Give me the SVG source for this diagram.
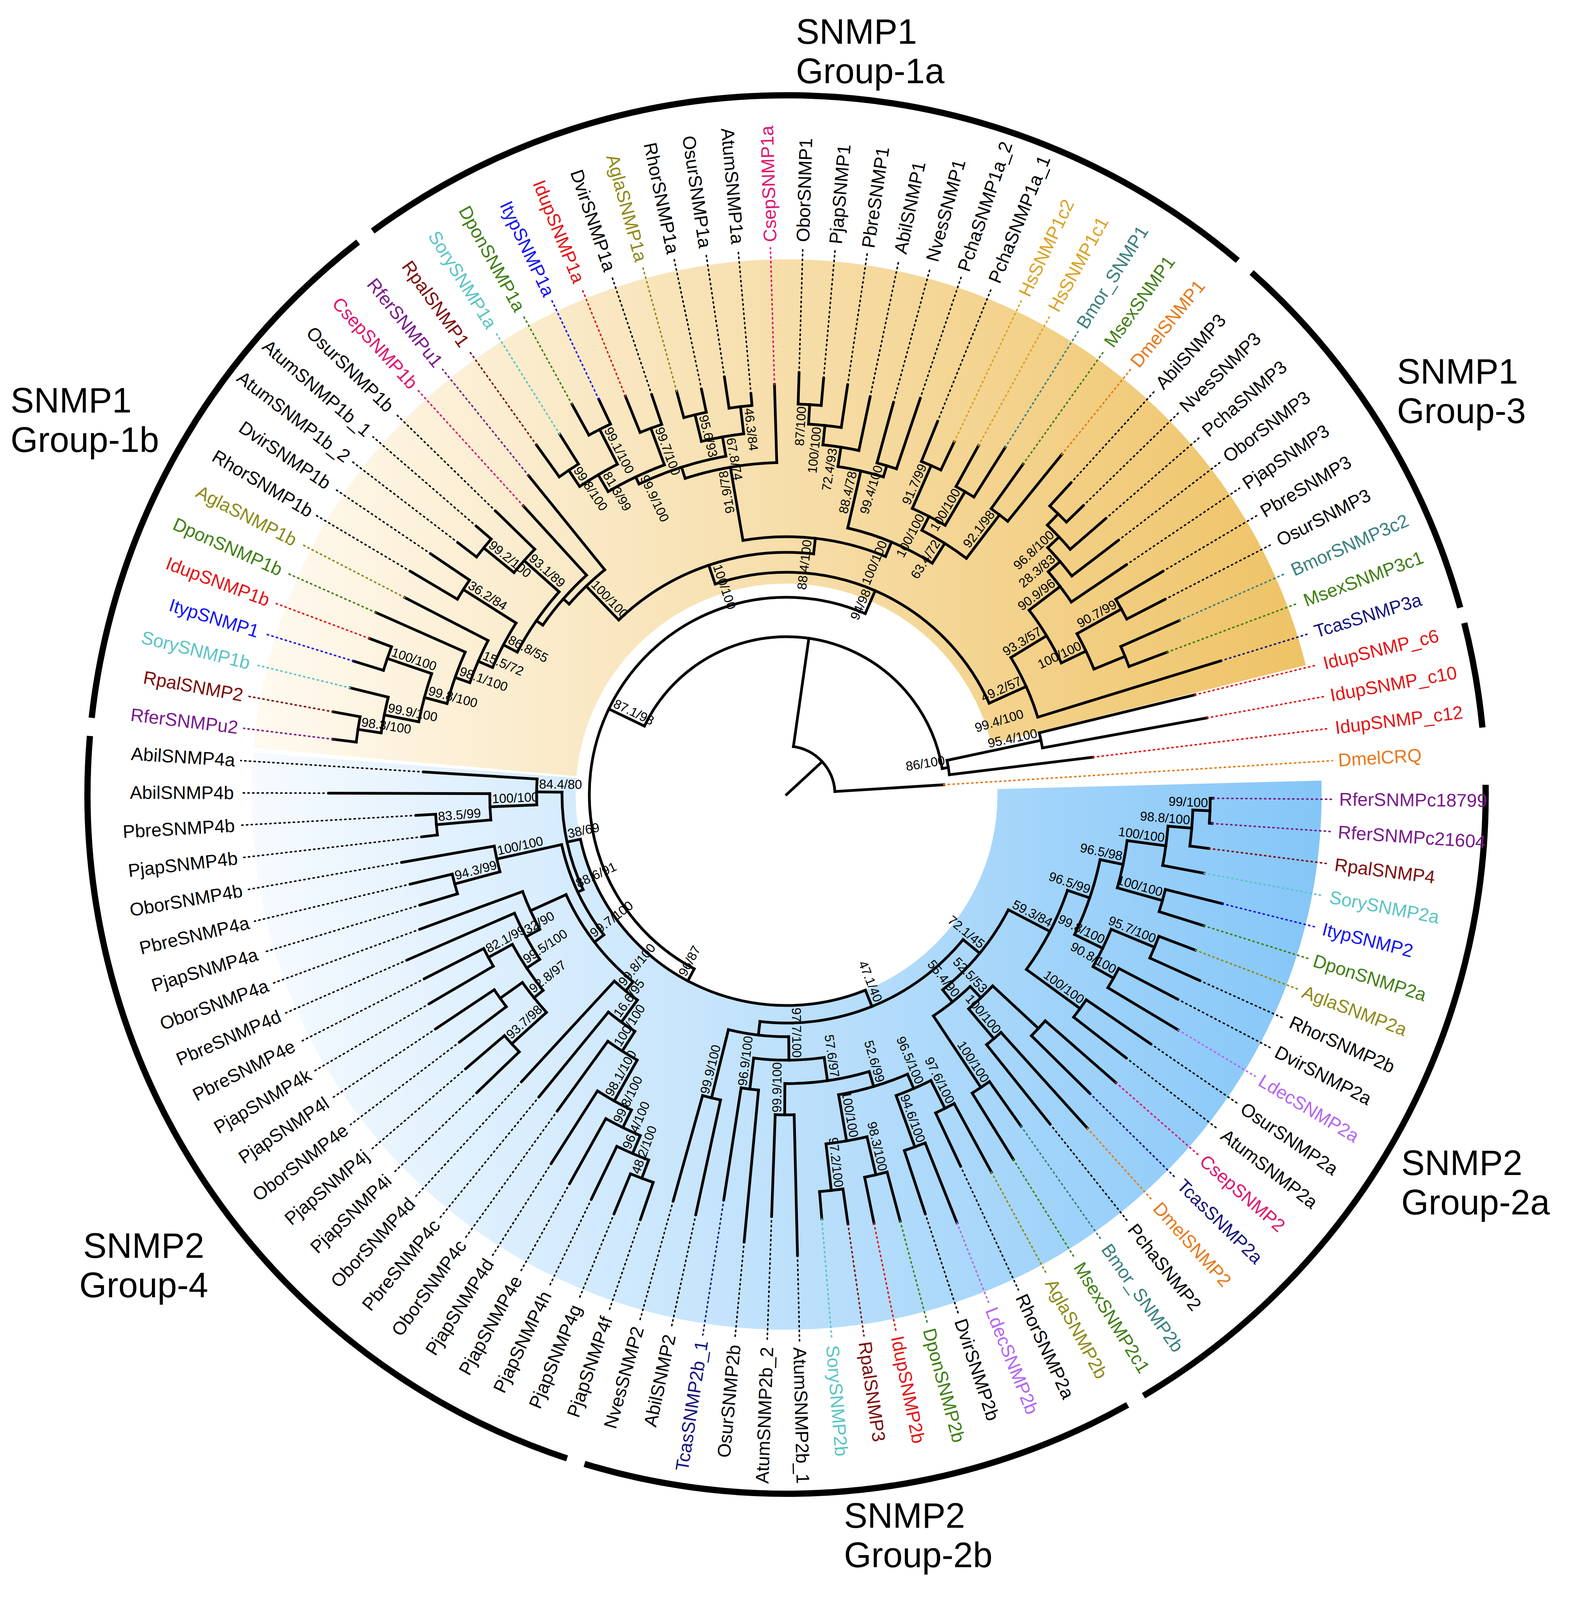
<svg xmlns="http://www.w3.org/2000/svg" width="4020" height="4291" viewBox="0 0 4020 4291">
<style>
.b line,.b circle{stroke:#000;stroke-width:7;fill:none;stroke-linecap:square}
.d{stroke-width:4;stroke-dasharray:3 9;stroke-linecap:round}
text{font-family:"Liberation Sans",Arial,sans-serif}
.l{font-size:47px}
.lf{font-size:47px;text-anchor:end}
.bs{font-size:33px;text-anchor:end}
.bf{font-size:33px;text-anchor:start}
.g{font-size:90px}
.pu{fill:#7a1a8c}.dr{fill:#7d0b0b}.tq{fill:#5bc4c4}.bl{fill:#1515f0}.gr{fill:#3f7f14}.ol{fill:#8f8a18}.rd{fill:#e31515}.mg{fill:#de1570}.lv{fill:#b466f2}.nv{fill:#15157a}.or{fill:#e8791a}.tl{fill:#3b8080}.go{fill:#d9a325}
.ga circle{fill:none;stroke:#000;stroke-width:16}
</style>
<defs>
<linearGradient id="og" gradientUnits="userSpaceOnUse" x1="-1370" y1="0" x2="1370" y2="0"><stop offset="0" stop-color="#fffaf1"/><stop offset="1" stop-color="#eec263"/></linearGradient>
<linearGradient id="bg" gradientUnits="userSpaceOnUse" x1="-1370" y1="0" x2="1370" y2="0"><stop offset="0" stop-color="#f7fbff"/><stop offset="1" stop-color="#84c6f8"/></linearGradient>
</defs>
<rect width="4020" height="4291" fill="#fff"/>
<g transform="translate(2014,2034)">
<g id="shading">
<circle r="955" fill="none" stroke="url(#og)" stroke-width="830" pathLength="360" stroke-dasharray="161 720" stroke-dashoffset="-185"/>
<circle r="955" fill="none" stroke="url(#bg)" stroke-width="830" pathLength="360" stroke-dasharray="184.5 174 1.5 720"/>
</g>
<g id="group-arcs" class="ga">
<circle r="1790" pathLength="360" stroke-dasharray="60.1 720" transform="rotate(-0.8)"/>
<circle r="1790" pathLength="360" stroke-dasharray="46 720" transform="rotate(60.8)"/>
<circle r="1790" pathLength="360" stroke-dasharray="76.5 720" transform="rotate(108.3)"/>
<circle r="1790" pathLength="360" stroke-dasharray="45.9 720" transform="rotate(186.3)"/>
<circle r="1790" pathLength="360" stroke-dasharray="76.5 720" transform="rotate(233.7)"/>
<circle r="1790" pathLength="360" stroke-dasharray="32.8 720" transform="rotate(311.7)"/>
<circle r="1790" pathLength="360" stroke-dasharray="8.7 720" transform="rotate(345.8)"/>
</g>
<g id="connectors" class="b">
<circle r="1085" pathLength="360" stroke-dasharray="3.39 720" transform="rotate(0.5)"/><line x1="1085" x2="1092" transform="rotate(0.5)"/><line x1="1085" x2="1092" transform="rotate(3.89)"/>
<circle r="1041" pathLength="360" stroke-dasharray="5.085 720" transform="rotate(2.195)"/><line x1="1041" x2="1085" transform="rotate(2.195)"/><line x1="1041" x2="1090" transform="rotate(7.28)"/>
<circle r="980" pathLength="360" stroke-dasharray="5.93 720" transform="rotate(4.74)"/><line x1="980" x2="1041" transform="rotate(4.74)"/><line x1="980" x2="1088" transform="rotate(10.67)"/>
<circle r="1000" pathLength="360" stroke-dasharray="3.39 720" transform="rotate(14.06)"/><line x1="1000" x2="1150" transform="rotate(14.06)"/><line x1="1000" x2="1120" transform="rotate(17.45)"/>
<circle r="880" pathLength="360" stroke-dasharray="8.055 720" transform="rotate(7.7)"/><line x1="880" x2="980" transform="rotate(7.7)"/><line x1="880" x2="1000" transform="rotate(15.755)"/>
<circle r="1020" pathLength="360" stroke-dasharray="3.39 720" transform="rotate(20.84)"/><line x1="1020" x2="1120" transform="rotate(20.84)"/><line x1="1020" x2="1160" transform="rotate(24.23)"/>
<circle r="960" pathLength="360" stroke-dasharray="3.39 720" transform="rotate(27.62)"/><line x1="960" x2="1130" transform="rotate(27.62)"/><line x1="960" x2="1170" transform="rotate(31.01)"/>
<circle r="900" pathLength="360" stroke-dasharray="6.78 720" transform="rotate(22.535)"/><line x1="900" x2="1020" transform="rotate(22.535)"/><line x1="900" x2="960" transform="rotate(29.315)"/>
<circle r="820" pathLength="360" stroke-dasharray="14.195 720" transform="rotate(11.73)"/><line x1="820" x2="880" transform="rotate(11.73)"/><line x1="820" x2="900" transform="rotate(25.925)"/>
<circle r="930" pathLength="360" stroke-dasharray="3.39 720" transform="rotate(34.4)"/><line x1="930" x2="1130" transform="rotate(34.4)"/><line x1="930" x2="1100" transform="rotate(37.79)"/>
<circle r="760" pathLength="360" stroke-dasharray="17.265 720" transform="rotate(18.83)"/><line x1="760" x2="820" transform="rotate(18.83)"/><line x1="760" x2="930" transform="rotate(36.095)"/>
<circle r="880" pathLength="360" stroke-dasharray="3.39 720" transform="rotate(41.18)"/><line x1="880" x2="1120" transform="rotate(41.18)"/><line x1="880" x2="1090" transform="rotate(44.57)"/>
<circle r="820" pathLength="360" stroke-dasharray="3.39 720" transform="rotate(47.96)"/><line x1="820" x2="1150" transform="rotate(47.96)"/><line x1="820" x2="1080" transform="rotate(51.35)"/>
<circle r="720" pathLength="360" stroke-dasharray="6.78 720" transform="rotate(42.875)"/><line x1="720" x2="880" transform="rotate(42.875)"/><line x1="720" x2="820" transform="rotate(49.655)"/>
<circle r="900" pathLength="360" stroke-dasharray="3.39 720" transform="rotate(54.74)"/><line x1="900" x2="1040" transform="rotate(54.74)"/><line x1="900" x2="1100" transform="rotate(58.13)"/>
<circle r="680" pathLength="360" stroke-dasharray="10.17 720" transform="rotate(46.265)"/><line x1="680" x2="720" transform="rotate(46.265)"/><line x1="680" x2="900" transform="rotate(56.435)"/>
<circle r="640" pathLength="360" stroke-dasharray="23.89 720" transform="rotate(27.46)"/><line x1="640" x2="760" transform="rotate(27.46)"/><line x1="640" x2="680" transform="rotate(51.35)"/>
<circle r="900" pathLength="360" stroke-dasharray="3.39 720" transform="rotate(61.52)"/><line x1="900" x2="1100" transform="rotate(61.52)"/><line x1="900" x2="1050" transform="rotate(64.91)"/>
<circle r="960" pathLength="360" stroke-dasharray="3.39 720" transform="rotate(68.3)"/><line x1="960" x2="1180" transform="rotate(68.3)"/><line x1="960" x2="1130" transform="rotate(71.69)"/>
<circle r="820" pathLength="360" stroke-dasharray="6.78 720" transform="rotate(63.215)"/><line x1="820" x2="900" transform="rotate(63.215)"/><line x1="820" x2="960" transform="rotate(69.995)"/>
<circle r="1000" pathLength="360" stroke-dasharray="3.39 720" transform="rotate(75.08)"/><line x1="1000" x2="1130" transform="rotate(75.08)"/><line x1="1000" x2="1120" transform="rotate(78.47)"/>
<circle r="1020" pathLength="360" stroke-dasharray="3.39 720" transform="rotate(81.86)"/><line x1="1020" x2="1110" transform="rotate(81.86)"/><line x1="1020" x2="1090" transform="rotate(85.25)"/>
<circle r="900" pathLength="360" stroke-dasharray="6.78 720" transform="rotate(76.775)"/><line x1="900" x2="1000" transform="rotate(76.775)"/><line x1="900" x2="1020" transform="rotate(83.555)"/>
<circle r="780" pathLength="360" stroke-dasharray="13.56 720" transform="rotate(66.605)"/><line x1="780" x2="820" transform="rotate(66.605)"/><line x1="780" x2="900" transform="rotate(80.165)"/>
<circle r="820" pathLength="360" stroke-dasharray="3.39 720" transform="rotate(88.64)"/><line x1="820" x2="1180" transform="rotate(88.64)"/><line x1="820" x2="1080" transform="rotate(92.03)"/>
<circle r="740" pathLength="360" stroke-dasharray="16.95 720" transform="rotate(73.385)"/><line x1="740" x2="780" transform="rotate(73.385)"/><line x1="740" x2="820" transform="rotate(90.335)"/>
<circle r="760" pathLength="360" stroke-dasharray="3.39 720" transform="rotate(95.42)"/><line x1="760" x2="1150" transform="rotate(95.42)"/><line x1="760" x2="1050" transform="rotate(98.81)"/>
<circle r="680" pathLength="360" stroke-dasharray="15.255 720" transform="rotate(81.86)"/><line x1="680" x2="740" transform="rotate(81.86)"/><line x1="680" x2="760" transform="rotate(97.115)"/>
<circle r="800" pathLength="360" stroke-dasharray="3.39 720" transform="rotate(102.2)"/><line x1="800" x2="1100" transform="rotate(102.2)"/><line x1="800" x2="1080" transform="rotate(105.59)"/>
<circle r="620" pathLength="360" stroke-dasharray="14.405 720" transform="rotate(89.49)"/><line x1="620" x2="680" transform="rotate(89.49)"/><line x1="620" x2="800" transform="rotate(103.895)"/>
<circle r="585" pathLength="360" stroke-dasharray="57.285 720" transform="rotate(39.405)"/><line x1="585" x2="640" transform="rotate(39.405)"/><line x1="585" x2="620" transform="rotate(96.69)"/>
<circle r="1050" pathLength="360" stroke-dasharray="3.39 720" transform="rotate(108.98)"/><line x1="1050" x2="1150" transform="rotate(108.98)"/><line x1="1050" x2="1160" transform="rotate(112.37)"/>
<circle r="1000" pathLength="360" stroke-dasharray="5.085 720" transform="rotate(110.675)"/><line x1="1000" x2="1050" transform="rotate(110.675)"/><line x1="1000" x2="1150" transform="rotate(115.76)"/>
<circle r="950" pathLength="360" stroke-dasharray="5.93 720" transform="rotate(113.22)"/><line x1="950" x2="1000" transform="rotate(113.22)"/><line x1="950" x2="1140" transform="rotate(119.15)"/>
<circle r="900" pathLength="360" stroke-dasharray="6.355 720" transform="rotate(116.185)"/><line x1="900" x2="950" transform="rotate(116.185)"/><line x1="900" x2="1120" transform="rotate(122.54)"/>
<circle r="780" pathLength="360" stroke-dasharray="6.57 720" transform="rotate(119.36)"/><line x1="780" x2="900" transform="rotate(119.36)"/><line x1="780" x2="1000" transform="rotate(125.93)"/>
<circle r="720" pathLength="360" stroke-dasharray="6.675 720" transform="rotate(122.645)"/><line x1="720" x2="780" transform="rotate(122.645)"/><line x1="720" x2="1000" transform="rotate(129.32)"/>
<circle r="650" pathLength="360" stroke-dasharray="6.73 720" transform="rotate(125.98)"/><line x1="650" x2="720" transform="rotate(125.98)"/><line x1="650" x2="1000" transform="rotate(132.71)"/>
<circle r="950" pathLength="360" stroke-dasharray="3.39 720" transform="rotate(136.1)"/><line x1="950" x2="1100" transform="rotate(136.1)"/><line x1="950" x2="1080" transform="rotate(139.49)"/>
<circle r="900" pathLength="360" stroke-dasharray="3.39 720" transform="rotate(142.88)"/><line x1="900" x2="1050" transform="rotate(142.88)"/><line x1="900" x2="1080" transform="rotate(146.27)"/>
<circle r="870" pathLength="360" stroke-dasharray="3.39 720" transform="rotate(149.66)"/><line x1="870" x2="1060" transform="rotate(149.66)"/><line x1="870" x2="1040" transform="rotate(153.05)"/>
<circle r="830" pathLength="360" stroke-dasharray="6.78 720" transform="rotate(137.795)"/><line x1="830" x2="950" transform="rotate(137.795)"/><line x1="830" x2="900" transform="rotate(144.575)"/>
<circle r="800" pathLength="360" stroke-dasharray="10.17 720" transform="rotate(141.185)"/><line x1="800" x2="830" transform="rotate(141.185)"/><line x1="800" x2="870" transform="rotate(151.355)"/>
<circle r="760" pathLength="360" stroke-dasharray="10.17 720" transform="rotate(146.27)"/><line x1="760" x2="800" transform="rotate(146.27)"/><line x1="760" x2="1060" transform="rotate(156.44)"/>
<circle r="720" pathLength="360" stroke-dasharray="8.475 720" transform="rotate(151.355)"/><line x1="720" x2="760" transform="rotate(151.355)"/><line x1="720" x2="1000" transform="rotate(159.83)"/>
<circle r="620" pathLength="360" stroke-dasharray="26.245 720" transform="rotate(129.345)"/><line x1="620" x2="650" transform="rotate(129.345)"/><line x1="620" x2="720" transform="rotate(155.59)"/>
<circle r="880" pathLength="360" stroke-dasharray="3.39 720" transform="rotate(163.22)"/><line x1="880" x2="980" transform="rotate(163.22)"/><line x1="880" x2="990" transform="rotate(166.61)"/>
<circle r="760" pathLength="360" stroke-dasharray="5.085 720" transform="rotate(164.915)"/><line x1="760" x2="880" transform="rotate(164.915)"/><line x1="760" x2="1000" transform="rotate(170)"/>
<circle r="590" pathLength="360" stroke-dasharray="24.99 720" transform="rotate(142.47)"/><line x1="590" x2="620" transform="rotate(142.47)"/><line x1="590" x2="760" transform="rotate(167.46)"/>
<circle r="900" pathLength="360" stroke-dasharray="3.39 720" transform="rotate(173.39)"/><line x1="900" x2="940" transform="rotate(173.39)"/><line x1="900" x2="950" transform="rotate(176.78)"/>
<circle r="760" pathLength="360" stroke-dasharray="5.085 720" transform="rotate(175.085)"/><line x1="760" x2="900" transform="rotate(175.085)"/><line x1="760" x2="1172" transform="rotate(180.17)"/>
<circle r="640" pathLength="360" stroke-dasharray="5.93 720" transform="rotate(177.63)"/><line x1="640" x2="760" transform="rotate(177.63)"/><line x1="640" x2="931" transform="rotate(183.56)"/>
<circle r="575" pathLength="360" stroke-dasharray="25.63 720" transform="rotate(154.965)"/><line x1="575" x2="590" transform="rotate(154.965)"/><line x1="575" x2="640" transform="rotate(180.595)"/>
<circle r="540" pathLength="360" stroke-dasharray="99.73 720" transform="rotate(68.05)"/><line x1="540" x2="585" transform="rotate(68.05)"/><line x1="540" x2="575" transform="rotate(167.78)"/>
<circle r="1110" pathLength="360" stroke-dasharray="3.39 720" transform="rotate(186.95)"/><line x1="1110" x2="1170" transform="rotate(186.95)"/><line x1="1110" x2="1180" transform="rotate(190.34)"/>
<circle r="1050" pathLength="360" stroke-dasharray="5.085 720" transform="rotate(188.645)"/><line x1="1050" x2="1110" transform="rotate(188.645)"/><line x1="1050" x2="1150" transform="rotate(193.73)"/>
<circle r="1080" pathLength="360" stroke-dasharray="3.39 720" transform="rotate(197.12)"/><line x1="1080" x2="1160" transform="rotate(197.12)"/><line x1="1080" x2="1140" transform="rotate(200.51)"/>
<circle r="960" pathLength="360" stroke-dasharray="7.625 720" transform="rotate(191.19)"/><line x1="960" x2="1050" transform="rotate(191.19)"/><line x1="960" x2="1080" transform="rotate(198.815)"/>
<circle r="900" pathLength="360" stroke-dasharray="8.9 720" transform="rotate(195)"/><line x1="900" x2="960" transform="rotate(195)"/><line x1="900" x2="1150" transform="rotate(203.9)"/>
<circle r="860" pathLength="360" stroke-dasharray="7.84 720" transform="rotate(199.45)"/><line x1="860" x2="900" transform="rotate(199.45)"/><line x1="860" x2="1100" transform="rotate(207.29)"/>
<circle r="980" pathLength="360" stroke-dasharray="3.39 720" transform="rotate(210.68)"/><line x1="980" x2="1120" transform="rotate(210.68)"/><line x1="980" x2="1100" transform="rotate(214.07)"/>
<circle r="820" pathLength="360" stroke-dasharray="9.005 720" transform="rotate(203.37)"/><line x1="820" x2="860" transform="rotate(203.37)"/><line x1="820" x2="980" transform="rotate(212.375)"/>
<circle r="1000" pathLength="360" stroke-dasharray="3.39 720" transform="rotate(217.46)"/><line x1="1000" x2="1060" transform="rotate(217.46)"/><line x1="1000" x2="1050" transform="rotate(220.85)"/>
<circle r="900" pathLength="360" stroke-dasharray="5.085 720" transform="rotate(219.155)"/><line x1="900" x2="1000" transform="rotate(219.155)"/><line x1="900" x2="1040" transform="rotate(224.24)"/>
<circle r="780" pathLength="360" stroke-dasharray="13.83 720" transform="rotate(207.87)"/><line x1="780" x2="820" transform="rotate(207.87)"/><line x1="780" x2="900" transform="rotate(221.7)"/>
<circle r="760" pathLength="360" stroke-dasharray="12.845 720" transform="rotate(214.785)"/><line x1="760" x2="780" transform="rotate(214.785)"/><line x1="760" x2="1000" transform="rotate(227.63)"/>
<circle r="740" pathLength="360" stroke-dasharray="9.81 720" transform="rotate(221.21)"/><line x1="740" x2="760" transform="rotate(221.21)"/><line x1="740" x2="1050" transform="rotate(231.02)"/>
<circle r="1000" pathLength="360" stroke-dasharray="3.39 720" transform="rotate(234.41)"/><line x1="1000" x2="1100" transform="rotate(234.41)"/><line x1="1000" x2="1090" transform="rotate(237.8)"/>
<circle r="1050" pathLength="360" stroke-dasharray="3.39 720" transform="rotate(241.19)"/><line x1="1050" x2="1140" transform="rotate(241.19)"/><line x1="1050" x2="1120" transform="rotate(244.58)"/>
<circle r="950" pathLength="360" stroke-dasharray="6.78 720" transform="rotate(236.105)"/><line x1="950" x2="1000" transform="rotate(236.105)"/><line x1="950" x2="1050" transform="rotate(242.885)"/>
<circle r="1000" pathLength="360" stroke-dasharray="3.39 720" transform="rotate(247.97)"/><line x1="1000" x2="1100" transform="rotate(247.97)"/><line x1="1000" x2="1080" transform="rotate(251.36)"/>
<circle r="900" pathLength="360" stroke-dasharray="10.17 720" transform="rotate(239.495)"/><line x1="900" x2="950" transform="rotate(239.495)"/><line x1="900" x2="1000" transform="rotate(249.665)"/>
<circle r="1000" pathLength="360" stroke-dasharray="3.39 720" transform="rotate(254.75)"/><line x1="1000" x2="1070" transform="rotate(254.75)"/><line x1="1000" x2="1060" transform="rotate(258.14)"/>
<circle r="1000" pathLength="360" stroke-dasharray="3.39 720" transform="rotate(261.53)"/><line x1="1000" x2="1080" transform="rotate(261.53)"/><line x1="1000" x2="1030" transform="rotate(264.92)"/>
<circle r="930" pathLength="360" stroke-dasharray="6.78 720" transform="rotate(256.445)"/><line x1="930" x2="1000" transform="rotate(256.445)"/><line x1="930" x2="1000" transform="rotate(263.225)"/>
<circle r="880" pathLength="360" stroke-dasharray="15.255 720" transform="rotate(244.58)"/><line x1="880" x2="900" transform="rotate(244.58)"/><line x1="880" x2="930" transform="rotate(259.835)"/>
<circle r="850" pathLength="360" stroke-dasharray="16.1 720" transform="rotate(252.21)"/><line x1="850" x2="880" transform="rotate(252.21)"/><line x1="850" x2="1050" transform="rotate(268.31)"/>
<circle r="1000" pathLength="360" stroke-dasharray="3.39 720" transform="rotate(271.7)"/><line x1="1000" x2="1080" transform="rotate(271.7)"/><line x1="1000" x2="1070" transform="rotate(275.09)"/>
<circle r="950" pathLength="360" stroke-dasharray="5.085 720" transform="rotate(273.395)"/><line x1="950" x2="1000" transform="rotate(273.395)"/><line x1="950" x2="1060" transform="rotate(278.48)"/>
<circle r="900" pathLength="360" stroke-dasharray="5.93 720" transform="rotate(275.94)"/><line x1="900" x2="950" transform="rotate(275.94)"/><line x1="900" x2="1040" transform="rotate(281.87)"/>
<circle r="880" pathLength="360" stroke-dasharray="3.39 720" transform="rotate(285.26)"/><line x1="880" x2="1040" transform="rotate(285.26)"/><line x1="880" x2="1070" transform="rotate(288.65)"/>
<circle r="850" pathLength="360" stroke-dasharray="8.05 720" transform="rotate(278.905)"/><line x1="850" x2="900" transform="rotate(278.905)"/><line x1="850" x2="880" transform="rotate(286.955)"/>
<circle r="920" pathLength="360" stroke-dasharray="3.39 720" transform="rotate(292.04)"/><line x1="920" x2="1030" transform="rotate(292.04)"/><line x1="920" x2="1000" transform="rotate(295.43)"/>
<circle r="900" pathLength="360" stroke-dasharray="3.39 720" transform="rotate(298.82)"/><line x1="900" x2="1020" transform="rotate(298.82)"/><line x1="900" x2="1050" transform="rotate(302.21)"/>
<circle r="800" pathLength="360" stroke-dasharray="6.78 720" transform="rotate(293.735)"/><line x1="800" x2="920" transform="rotate(293.735)"/><line x1="800" x2="900" transform="rotate(300.515)"/>
<circle r="900" pathLength="360" stroke-dasharray="3.39 720" transform="rotate(305.6)"/><line x1="900" x2="1040" transform="rotate(305.6)"/><line x1="900" x2="1120" transform="rotate(308.99)"/>
<circle r="760" pathLength="360" stroke-dasharray="10.17 720" transform="rotate(297.125)"/><line x1="760" x2="800" transform="rotate(297.125)"/><line x1="760" x2="900" transform="rotate(307.295)"/>
<circle r="700" pathLength="360" stroke-dasharray="19.28 720" transform="rotate(282.93)"/><line x1="700" x2="850" transform="rotate(282.93)"/><line x1="700" x2="760" transform="rotate(302.21)"/>
<circle r="660" pathLength="360" stroke-dasharray="32.31 720" transform="rotate(260.26)"/><line x1="660" x2="850" transform="rotate(260.26)"/><line x1="660" x2="700" transform="rotate(292.57)"/>
<circle r="620" pathLength="360" stroke-dasharray="50.3 720" transform="rotate(226.115)"/><line x1="620" x2="740" transform="rotate(226.115)"/><line x1="620" x2="660" transform="rotate(276.415)"/>
<circle r="1000" pathLength="360" stroke-dasharray="3.39 720" transform="rotate(312.38)"/><line x1="1000" x2="1080" transform="rotate(312.38)"/><line x1="1000" x2="1060" transform="rotate(315.77)"/>
<circle r="960" pathLength="360" stroke-dasharray="5.085 720" transform="rotate(314.075)"/><line x1="960" x2="1000" transform="rotate(314.075)"/><line x1="960" x2="1080" transform="rotate(319.16)"/>
<circle r="920" pathLength="360" stroke-dasharray="5.93 720" transform="rotate(316.62)"/><line x1="920" x2="960" transform="rotate(316.62)"/><line x1="920" x2="1070" transform="rotate(322.55)"/>
<circle r="880" pathLength="360" stroke-dasharray="6.355 720" transform="rotate(319.585)"/><line x1="880" x2="920" transform="rotate(319.585)"/><line x1="880" x2="1050" transform="rotate(325.94)"/>
<circle r="980" pathLength="360" stroke-dasharray="3.39 720" transform="rotate(329.33)"/><line x1="980" x2="1120" transform="rotate(329.33)"/><line x1="980" x2="1090" transform="rotate(332.72)"/>
<circle r="936" pathLength="360" stroke-dasharray="3.39 720" transform="rotate(336.11)"/><line x1="936" x2="1100" transform="rotate(336.11)"/><line x1="936" x2="1040" transform="rotate(339.5)"/>
<circle r="850" pathLength="360" stroke-dasharray="6.78 720" transform="rotate(331.025)"/><line x1="850" x2="980" transform="rotate(331.025)"/><line x1="850" x2="936" transform="rotate(337.805)"/>
<circle r="780" pathLength="360" stroke-dasharray="11.655 720" transform="rotate(322.76)"/><line x1="780" x2="880" transform="rotate(322.76)"/><line x1="780" x2="850" transform="rotate(334.415)"/>
<circle r="673" pathLength="360" stroke-dasharray="14.3 720" transform="rotate(328.59)"/><line x1="673" x2="780" transform="rotate(328.59)"/><line x1="673" x2="1163" transform="rotate(342.89)"/>
<circle r="569" pathLength="360" stroke-dasharray="84.475 720" transform="rotate(251.265)"/><line x1="569" x2="620" transform="rotate(251.265)"/><line x1="569" x2="673" transform="rotate(335.74)"/>
<circle r="505" pathLength="360" stroke-dasharray="175.585 720" transform="rotate(117.915)"/><line x1="505" x2="540" transform="rotate(117.915)"/><line x1="505" x2="569" transform="rotate(293.5)"/>
<circle r="666" pathLength="360" stroke-dasharray="3.39 720" transform="rotate(346.28)"/><line x1="666" x2="1076" transform="rotate(346.28)"/><line x1="666" x2="1094" transform="rotate(349.67)"/>
<circle r="420" pathLength="360" stroke-dasharray="5.085 720" transform="rotate(347.975)"/><line x1="420" x2="666" transform="rotate(347.975)"/><line x1="420" x2="790" transform="rotate(353.06)"/>
<circle r="404" pathLength="360" stroke-dasharray="144.81 720" transform="rotate(205.71)"/><line x1="404" x2="505" transform="rotate(205.71)"/><line x1="404" x2="420" transform="rotate(350.52)"/>
<circle r="124" pathLength="360" stroke-dasharray="78.33 720" transform="rotate(278.12)"/><line x1="124" x2="404" transform="rotate(278.12)"/><line x1="124" x2="403" transform="rotate(356.45)"/>
<line x1="0" x2="124" transform="rotate(317.3)"/>
</g>
<g id="bootstrap">
<text class="bs" transform="rotate(2.195) translate(1079,-9)">99/100</text>
<text class="bs" transform="rotate(4.74) translate(1035,-9)">98.8/100</text>
<text class="bs" transform="rotate(7.7) translate(974,-9)">100/100</text>
<text class="bs" transform="rotate(15.755) translate(994,-9)">100/100</text>
<text class="bs" transform="rotate(11.73) translate(874,-9)">96.5/98</text>
<text class="bs" transform="rotate(22.535) translate(1014,-9)">95.7/100</text>
<text class="bs" transform="rotate(29.315) translate(954,-9)">90.8/100</text>
<text class="bs" transform="rotate(25.925) translate(894,-9)">99.8/100</text>
<text class="bs" transform="rotate(18.83) translate(814,-9)">96.5/99</text>
<text class="bs" transform="rotate(36.095) translate(924,-9)">100/100</text>
<text class="bs" transform="rotate(27.46) translate(754,-9)">59.3/84</text>
<text class="bs" transform="rotate(49.655) translate(814,-9)">100/100</text>
<text class="bs" transform="rotate(46.265) translate(714,-9)">52.5/53</text>
<text class="bs" transform="rotate(56.435) translate(894,-9)">100/100</text>
<text class="bs" transform="rotate(51.35) translate(674,-9)">55.4/90</text>
<text class="bs" transform="rotate(39.405) translate(634,-9)">72.1/45</text>
<text class="bs" transform="rotate(68.05) translate(579,-9)">47.1/40</text>
<text class="bs" transform="rotate(63.215) translate(894,-9)">97.6/100</text>
<text class="bs" transform="rotate(69.995) translate(954,-9)">94.6/100</text>
<text class="bs" transform="rotate(66.605) translate(814,-9)">96.5/100</text>
<text class="bs" transform="rotate(76.775) translate(994,-9)">98.3/100</text>
<text class="bs" transform="rotate(83.555) translate(1014,-9)">97.2/100</text>
<text class="bs" transform="rotate(80.165) translate(894,-9)">100/100</text>
<text class="bs" transform="rotate(73.385) translate(774,-9)">52.6/99</text>
<text class="bs" transform="rotate(81.86) translate(734,-9)">57.6/97</text>
<text class="bs" transform="rotate(89.49) translate(674,-9)">97.7/100</text>
<text class="bf" transform="rotate(90.335) translate(820,0) rotate(180)" x="6" y="-9">99.9/100</text>
<text class="bf" transform="rotate(97.115) translate(760,0) rotate(180)" x="6" y="-9">96.9/100</text>
<text class="bf" transform="rotate(103.895) translate(800,0) rotate(180)" x="6" y="-9">99.9/100</text>
<text class="bf" transform="rotate(117.915) translate(540,0) rotate(180)" x="6" y="-9">96/87</text>
<text class="bf" transform="rotate(110.675) translate(1050,0) rotate(180)" x="6" y="-9">48.2/100</text>
<text class="bf" transform="rotate(113.22) translate(1000,0) rotate(180)" x="6" y="-9">96.4/100</text>
<text class="bf" transform="rotate(116.185) translate(950,0) rotate(180)" x="6" y="-9">99.8/100</text>
<text class="bf" transform="rotate(119.36) translate(900,0) rotate(180)" x="6" y="-9">98.1/100</text>
<text class="bf" transform="rotate(122.645) translate(780,0) rotate(180)" x="6" y="-9">100/100</text>
<text class="bf" transform="rotate(125.98) translate(720,0) rotate(180)" x="6" y="-9">16.6/95</text>
<text class="bf" transform="rotate(129.345) translate(650,0) rotate(180)" x="6" y="-9">99.8/100</text>
<text class="bf" transform="rotate(137.795) translate(950,0) rotate(180)" x="6" y="-9">93.7/98</text>
<text class="bf" transform="rotate(141.185) translate(830,0) rotate(180)" x="6" y="-9">92.8/97</text>
<text class="bf" transform="rotate(151.355) translate(870,0) rotate(180)" x="6" y="-9">82.1/99</text>
<text class="bf" transform="rotate(146.27) translate(800,0) rotate(180)" x="6" y="-9">99.5/100</text>
<text class="bf" transform="rotate(151.0) translate(760,0) rotate(180)" x="6" y="-9">32/90</text>
<text class="bf" transform="rotate(142.47) translate(620,0) rotate(180)" x="6" y="-9">99.7/100</text>
<text class="bf" transform="rotate(164.915) translate(880,0) rotate(180)" x="6" y="-9">94.3/99</text>
<text class="bf" transform="rotate(167.46) translate(760,0) rotate(180)" x="6" y="-9">100/100</text>
<text class="bf" transform="rotate(154.965) translate(590,0) rotate(180)" x="6" y="-9">88.6/91</text>
<text class="bf" transform="rotate(175.085) translate(900,0) rotate(180)" x="6" y="-9">83.5/99</text>
<text class="bf" transform="rotate(177.63) translate(760,0) rotate(180)" x="6" y="-9">100/100</text>
<text class="bf" transform="rotate(180.595) translate(640,0) rotate(180)" x="6" y="-9">84.4/80</text>
<text class="bf" transform="rotate(167.78) translate(575,0) rotate(180)" x="6" y="-9">38/69</text>
<text class="bf" transform="rotate(205.71) translate(505,0) rotate(180)" x="6" y="-9">87.1/98</text>
<text class="bf" transform="rotate(188.645) translate(1110,0) rotate(180)" x="6" y="-9">98.3/100</text>
<text class="bf" transform="rotate(191.19) translate(1050,0) rotate(180)" x="6" y="-9">99.9/100</text>
<text class="bf" transform="rotate(198.815) translate(1080,0) rotate(180)" x="6" y="-9">100/100</text>
<text class="bf" transform="rotate(195) translate(960,0) rotate(180)" x="6" y="-9">99.8/100</text>
<text class="bf" transform="rotate(199.45) translate(900,0) rotate(180)" x="6" y="-9">98.1/100</text>
<text class="bf" transform="rotate(203.37) translate(860,0) rotate(180)" x="6" y="-9">15.5/72</text>
<text class="bf" transform="rotate(212.375) translate(980,0) rotate(180)" x="6" y="-9">36.2/84</text>
<text class="bf" transform="rotate(207.87) translate(820,0) rotate(180)" x="6" y="-9">86.8/55</text>
<text class="bf" transform="rotate(219.155) translate(1000,0) rotate(180)" x="6" y="-9">99.2/100</text>
<text class="bf" transform="rotate(221.7) translate(900,0) rotate(180)" x="6" y="-9">93.1/89</text>
<text class="bf" transform="rotate(226.115) translate(740,0) rotate(180)" x="6" y="-9">100/100</text>
<text class="bf" transform="rotate(236.105) translate(1000,0) rotate(180)" x="6" y="-9">99.8/100</text>
<text class="bf" transform="rotate(242.885) translate(1050,0) rotate(180)" x="6" y="-9">99.1/100</text>
<text class="bf" transform="rotate(239.495) translate(950,0) rotate(180)" x="6" y="-9">81.3/99</text>
<text class="bf" transform="rotate(249.665) translate(1000,0) rotate(180)" x="6" y="-9">99.7/100</text>
<text class="bf" transform="rotate(244.58) translate(900,0) rotate(180)" x="6" y="-9">99.9/100</text>
<text class="bf" transform="rotate(256.445) translate(1000,0) rotate(180)" x="6" y="-9">95.6/93</text>
<text class="bf" transform="rotate(263.225) translate(1000,0) rotate(180)" x="6" y="-9">46.3/84</text>
<text class="bf" transform="rotate(259.835) translate(930,0) rotate(180)" x="6" y="-9">67.8/74</text>
<text class="bf" transform="rotate(251.265) translate(620,0) rotate(180)" x="6" y="-9">100/100</text>
<text class="bs" transform="rotate(273.395) translate(994,-9)">87/100</text>
<text class="bs" transform="rotate(275.94) translate(944,-9)">100/100</text>
<text class="bs" transform="rotate(278.905) translate(894,-9)">72.4/93</text>
<text class="bs" transform="rotate(286.955) translate(874,-9)">99.4/100</text>
<text class="bs" transform="rotate(282.93) translate(844,-9)">88.4/78</text>
<text class="bs" transform="rotate(293.735) translate(914,-9)">91.7/99</text>
<text class="bs" transform="rotate(300.515) translate(894,-9)">100/100</text>
<text class="bs" transform="rotate(297.125) translate(794,-9)">100/100</text>
<text class="bs" transform="rotate(307.295) translate(894,-9)">92.1/98</text>
<text class="bs" transform="rotate(302.21) translate(754,-9)">63.4/72</text>
<text class="bs" transform="rotate(292.57) translate(694,-9)">100/100</text>
<text class="bs" transform="rotate(260.26) translate(844,-9)">91.9/78</text>
<text class="bs" transform="rotate(276.415) translate(654,-9)">88.4/100</text>
<text class="bs" transform="rotate(293.5) translate(563,-9)">94/98</text>
<text class="bs" transform="rotate(316.62) translate(954,-9)">96.8/100</text>
<text class="bs" transform="rotate(319.585) translate(914,-9)">28.3/83</text>
<text class="bs" transform="rotate(322.76) translate(874,-9)">90.9/96</text>
<text class="bs" transform="rotate(331.025) translate(974,-9)">90.7/99</text>
<text class="bs" transform="rotate(334.415) translate(844,-9)">100/100</text>
<text class="bs" transform="rotate(328.59) translate(774,-9)">93.3/57</text>
<text class="bs" transform="rotate(335.74) translate(667,-9)">49.2/57</text>
<text class="bs" transform="rotate(342.89) translate(640,-9)">99.4/100</text>
<text class="bs" transform="rotate(347.975) translate(660,-9)">95.4/100</text>
<text class="bs" transform="rotate(350.52) translate(414,-9)">86/100</text>
</g>
<g id="leaves">
<g id="n1"><line class="d" stroke="#7a1a8c" x1="1092" x2="1400" transform="rotate(0.5)"/><text class="l pu" dy="16" transform="rotate(0.5) translate(1415,0)">RferSNMPc18799</text></g>
<g id="n2"><line class="d" stroke="#7a1a8c" x1="1092" x2="1400" transform="rotate(3.89)"/><text class="l pu" dy="16" transform="rotate(3.89) translate(1415,0)">RferSNMPc21604</text></g>
<g id="n3"><line class="d" stroke="#7d0b0b" x1="1090" x2="1400" transform="rotate(7.28)"/><text class="l dr" dy="16" transform="rotate(7.28) translate(1415,0)">RpalSNMP4</text></g>
<g id="n4"><line class="d" stroke="#5bc4c4" x1="1088" x2="1400" transform="rotate(10.67)"/><text class="l tq" dy="16" transform="rotate(10.67) translate(1415,0)">SorySNMP2a</text></g>
<g id="n5"><line class="d" stroke="#1515f0" x1="1150" x2="1400" transform="rotate(14.06)"/><text class="l bl" dy="16" transform="rotate(14.06) translate(1415,0)">ItypSNMP2</text></g>
<g id="n6"><line class="d" stroke="#3f7f14" x1="1120" x2="1400" transform="rotate(17.45)"/><text class="l gr" dy="16" transform="rotate(17.45) translate(1415,0)">DponSNMP2a</text></g>
<g id="n7"><line class="d" stroke="#8f8a18" x1="1120" x2="1400" transform="rotate(20.84)"/><text class="l ol" dy="16" transform="rotate(20.84) translate(1415,0)">AglaSNMP2a</text></g>
<g id="n8"><line class="d" stroke="#000" x1="1160" x2="1400" transform="rotate(24.23)"/><text class="l" dy="16" transform="rotate(24.23) translate(1415,0)">RhorSNMP2b</text></g>
<g id="n9"><line class="d" stroke="#000" x1="1130" x2="1400" transform="rotate(27.62)"/><text class="l" dy="16" transform="rotate(27.62) translate(1415,0)">DvirSNMP2a</text></g>
<g id="n10"><line class="d" stroke="#b466f2" x1="1170" x2="1400" transform="rotate(31.01)"/><text class="l lv" dy="16" transform="rotate(31.01) translate(1415,0)">LdecSNMP2a</text></g>
<g id="n11"><line class="d" stroke="#000" x1="1130" x2="1400" transform="rotate(34.4)"/><text class="l" dy="16" transform="rotate(34.4) translate(1415,0)">OsurSNMP2a</text></g>
<g id="n12"><line class="d" stroke="#000" x1="1100" x2="1400" transform="rotate(37.79)"/><text class="l" dy="16" transform="rotate(37.79) translate(1415,0)">AtumSNMP2a</text></g>
<g id="n13"><line class="d" stroke="#de1570" x1="1120" x2="1400" transform="rotate(41.18)"/><text class="l mg" dy="16" transform="rotate(41.18) translate(1415,0)">CsepSNMP2</text></g>
<g id="n14"><line class="d" stroke="#15157a" x1="1090" x2="1400" transform="rotate(44.57)"/><text class="l nv" dy="16" transform="rotate(44.57) translate(1415,0)">TcasSNMP2a</text></g>
<g id="n15"><line class="d" stroke="#e8791a" x1="1150" x2="1400" transform="rotate(47.96)"/><text class="l or" dy="16" transform="rotate(47.96) translate(1415,0)">DmelSNMP2</text></g>
<g id="n16"><line class="d" stroke="#000" x1="1080" x2="1400" transform="rotate(51.35)"/><text class="l" dy="16" transform="rotate(51.35) translate(1415,0)">PchaSNMP2</text></g>
<g id="n17"><line class="d" stroke="#3b8080" x1="1040" x2="1400" transform="rotate(54.74)"/><text class="l tl" dy="16" transform="rotate(54.74) translate(1415,0)">Bmor_SNMP2b</text></g>
<g id="n18"><line class="d" stroke="#3f7f14" x1="1100" x2="1400" transform="rotate(58.13)"/><text class="l gr" dy="16" transform="rotate(58.13) translate(1415,0)">MsexSNMP2c1</text></g>
<g id="n19"><line class="d" stroke="#8f8a18" x1="1100" x2="1400" transform="rotate(61.52)"/><text class="l ol" dy="16" transform="rotate(61.52) translate(1415,0)">AglaSNMP2b</text></g>
<g id="n20"><line class="d" stroke="#000" x1="1050" x2="1400" transform="rotate(64.91)"/><text class="l" dy="16" transform="rotate(64.91) translate(1415,0)">RhorSNMP2a</text></g>
<g id="n21"><line class="d" stroke="#b466f2" x1="1180" x2="1400" transform="rotate(68.3)"/><text class="l lv" dy="16" transform="rotate(68.3) translate(1415,0)">LdecSNMP2b</text></g>
<g id="n22"><line class="d" stroke="#000" x1="1130" x2="1400" transform="rotate(71.69)"/><text class="l" dy="16" transform="rotate(71.69) translate(1415,0)">DvirSNMP2b</text></g>
<g id="n23"><line class="d" stroke="#3f7f14" x1="1130" x2="1400" transform="rotate(75.08)"/><text class="l gr" dy="16" transform="rotate(75.08) translate(1415,0)">DponSNMP2b</text></g>
<g id="n24"><line class="d" stroke="#e31515" x1="1120" x2="1400" transform="rotate(78.47)"/><text class="l rd" dy="16" transform="rotate(78.47) translate(1415,0)">IdupSNMP2b</text></g>
<g id="n25"><line class="d" stroke="#7d0b0b" x1="1110" x2="1400" transform="rotate(81.86)"/><text class="l dr" dy="16" transform="rotate(81.86) translate(1415,0)">RpalSNMP3</text></g>
<g id="n26"><line class="d" stroke="#5bc4c4" x1="1090" x2="1400" transform="rotate(85.25)"/><text class="l tq" dy="16" transform="rotate(85.25) translate(1415,0)">SorySNMP2b</text></g>
<g id="n27"><line class="d" stroke="#000" x1="1180" x2="1400" transform="rotate(88.64)"/><text class="l" dy="16" transform="rotate(88.64) translate(1415,0)">AtumSNMP2b_1</text></g>
<g id="n28"><line class="d" stroke="#000" x1="1080" x2="1400" transform="rotate(92.03)"/><text class="lf" dy="16" transform="rotate(92.03) translate(1415,0) rotate(180)">AtumSNMP2b_2</text></g>
<g id="n29"><line class="d" stroke="#000" x1="1150" x2="1400" transform="rotate(95.42)"/><text class="lf" dy="16" transform="rotate(95.42) translate(1415,0) rotate(180)">OsurSNMP2b</text></g>
<g id="n30"><line class="d" stroke="#15157a" x1="1050" x2="1400" transform="rotate(98.81)"/><text class="lf nv" dy="16" transform="rotate(98.81) translate(1415,0) rotate(180)">TcasSNMP2b_1</text></g>
<g id="n31"><line class="d" stroke="#000" x1="1100" x2="1400" transform="rotate(102.2)"/><text class="lf" dy="16" transform="rotate(102.2) translate(1415,0) rotate(180)">AbilSNMP2</text></g>
<g id="n32"><line class="d" stroke="#000" x1="1080" x2="1400" transform="rotate(105.59)"/><text class="lf" dy="16" transform="rotate(105.59) translate(1415,0) rotate(180)">NvesSNMP2</text></g>
<g id="n33"><line class="d" stroke="#000" x1="1150" x2="1400" transform="rotate(108.98)"/><text class="lf" dy="16" transform="rotate(108.98) translate(1415,0) rotate(180)">PjapSNMP4f</text></g>
<g id="n34"><line class="d" stroke="#000" x1="1160" x2="1400" transform="rotate(112.37)"/><text class="lf" dy="16" transform="rotate(112.37) translate(1415,0) rotate(180)">PjapSNMP4g</text></g>
<g id="n35"><line class="d" stroke="#000" x1="1150" x2="1400" transform="rotate(115.76)"/><text class="lf" dy="16" transform="rotate(115.76) translate(1415,0) rotate(180)">PjapSNMP4h</text></g>
<g id="n36"><line class="d" stroke="#000" x1="1140" x2="1400" transform="rotate(119.15)"/><text class="lf" dy="16" transform="rotate(119.15) translate(1415,0) rotate(180)">PjapSNMP4e</text></g>
<g id="n37"><line class="d" stroke="#000" x1="1120" x2="1400" transform="rotate(122.54)"/><text class="lf" dy="16" transform="rotate(122.54) translate(1415,0) rotate(180)">PjapSNMP4d</text></g>
<g id="n38"><line class="d" stroke="#000" x1="1000" x2="1400" transform="rotate(125.93)"/><text class="lf" dy="16" transform="rotate(125.93) translate(1415,0) rotate(180)">OborSNMP4c</text></g>
<g id="n39"><line class="d" stroke="#000" x1="1000" x2="1400" transform="rotate(129.32)"/><text class="lf" dy="16" transform="rotate(129.32) translate(1415,0) rotate(180)">PbreSNMP4c</text></g>
<g id="n40"><line class="d" stroke="#000" x1="1000" x2="1400" transform="rotate(132.71)"/><text class="lf" dy="16" transform="rotate(132.71) translate(1415,0) rotate(180)">OborSNMP4d</text></g>
<g id="n41"><line class="d" stroke="#000" x1="1100" x2="1400" transform="rotate(136.1)"/><text class="lf" dy="16" transform="rotate(136.1) translate(1415,0) rotate(180)">PjapSNMP4i</text></g>
<g id="n42"><line class="d" stroke="#000" x1="1080" x2="1400" transform="rotate(139.49)"/><text class="lf" dy="16" transform="rotate(139.49) translate(1415,0) rotate(180)">PjapSNMP4j</text></g>
<g id="n43"><line class="d" stroke="#000" x1="1050" x2="1400" transform="rotate(142.88)"/><text class="lf" dy="16" transform="rotate(142.88) translate(1415,0) rotate(180)">OborSNMP4e</text></g>
<g id="n44"><line class="d" stroke="#000" x1="1080" x2="1400" transform="rotate(146.27)"/><text class="lf" dy="16" transform="rotate(146.27) translate(1415,0) rotate(180)">PjapSNMP4l</text></g>
<g id="n45"><line class="d" stroke="#000" x1="1060" x2="1400" transform="rotate(149.66)"/><text class="lf" dy="16" transform="rotate(149.66) translate(1415,0) rotate(180)">PjapSNMP4k</text></g>
<g id="n46"><line class="d" stroke="#000" x1="1040" x2="1400" transform="rotate(153.05)"/><text class="lf" dy="16" transform="rotate(153.05) translate(1415,0) rotate(180)">PbreSNMP4e</text></g>
<g id="n47"><line class="d" stroke="#000" x1="1060" x2="1400" transform="rotate(156.44)"/><text class="lf" dy="16" transform="rotate(156.44) translate(1415,0) rotate(180)">PbreSNMP4d</text></g>
<g id="n48"><line class="d" stroke="#000" x1="1000" x2="1400" transform="rotate(159.83)"/><text class="lf" dy="16" transform="rotate(159.83) translate(1415,0) rotate(180)">OborSNMP4a</text></g>
<g id="n49"><line class="d" stroke="#000" x1="980" x2="1400" transform="rotate(163.22)"/><text class="lf" dy="16" transform="rotate(163.22) translate(1415,0) rotate(180)">PjapSNMP4a</text></g>
<g id="n50"><line class="d" stroke="#000" x1="990" x2="1400" transform="rotate(166.61)"/><text class="lf" dy="16" transform="rotate(166.61) translate(1415,0) rotate(180)">PbreSNMP4a</text></g>
<g id="n51"><line class="d" stroke="#000" x1="1000" x2="1400" transform="rotate(170)"/><text class="lf" dy="16" transform="rotate(170) translate(1415,0) rotate(180)">OborSNMP4b</text></g>
<g id="n52"><line class="d" stroke="#000" x1="940" x2="1400" transform="rotate(173.39)"/><text class="lf" dy="16" transform="rotate(173.39) translate(1415,0) rotate(180)">PjapSNMP4b</text></g>
<g id="n53"><line class="d" stroke="#000" x1="950" x2="1400" transform="rotate(176.78)"/><text class="lf" dy="16" transform="rotate(176.78) translate(1415,0) rotate(180)">PbreSNMP4b</text></g>
<g id="n54"><line class="d" stroke="#000" x1="1172" x2="1400" transform="rotate(180.17)"/><text class="lf" dy="16" transform="rotate(180.17) translate(1415,0) rotate(180)">AbilSNMP4b</text></g>
<g id="n55"><line class="d" stroke="#000" x1="931" x2="1400" transform="rotate(183.56)"/><text class="lf" dy="16" transform="rotate(183.56) translate(1415,0) rotate(180)">AbilSNMP4a</text></g>
<g id="n56"><line class="d" stroke="#7a1a8c" x1="1170" x2="1400" transform="rotate(186.95)"/><text class="lf pu" dy="16" transform="rotate(186.95) translate(1415,0) rotate(180)">RferSNMPu2</text></g>
<g id="n57"><line class="d" stroke="#7d0b0b" x1="1180" x2="1400" transform="rotate(190.34)"/><text class="lf dr" dy="16" transform="rotate(190.34) translate(1415,0) rotate(180)">RpalSNMP2</text></g>
<g id="n58"><line class="d" stroke="#5bc4c4" x1="1150" x2="1400" transform="rotate(193.73)"/><text class="lf tq" dy="16" transform="rotate(193.73) translate(1415,0) rotate(180)">SorySNMP1b</text></g>
<g id="n59"><line class="d" stroke="#1515f0" x1="1160" x2="1400" transform="rotate(197.12)"/><text class="lf bl" dy="16" transform="rotate(197.12) translate(1415,0) rotate(180)">ItypSNMP1</text></g>
<g id="n60"><line class="d" stroke="#e31515" x1="1140" x2="1400" transform="rotate(200.51)"/><text class="lf rd" dy="16" transform="rotate(200.51) translate(1415,0) rotate(180)">IdupSNMP1b</text></g>
<g id="n61"><line class="d" stroke="#3f7f14" x1="1150" x2="1400" transform="rotate(203.9)"/><text class="lf gr" dy="16" transform="rotate(203.9) translate(1415,0) rotate(180)">DponSNMP1b</text></g>
<g id="n62"><line class="d" stroke="#8f8a18" x1="1100" x2="1400" transform="rotate(207.29)"/><text class="lf ol" dy="16" transform="rotate(207.29) translate(1415,0) rotate(180)">AglaSNMP1b</text></g>
<g id="n63"><line class="d" stroke="#000" x1="1120" x2="1400" transform="rotate(210.68)"/><text class="lf" dy="16" transform="rotate(210.68) translate(1415,0) rotate(180)">RhorSNMP1b</text></g>
<g id="n64"><line class="d" stroke="#000" x1="1100" x2="1400" transform="rotate(214.07)"/><text class="lf" dy="16" transform="rotate(214.07) translate(1415,0) rotate(180)">DvirSNMP1b</text></g>
<g id="n65"><line class="d" stroke="#000" x1="1060" x2="1400" transform="rotate(217.46)"/><text class="lf" dy="16" transform="rotate(217.46) translate(1415,0) rotate(180)">AtumSNMP1b_2</text></g>
<g id="n66"><line class="d" stroke="#000" x1="1050" x2="1400" transform="rotate(220.85)"/><text class="lf" dy="16" transform="rotate(220.85) translate(1415,0) rotate(180)">AtumSNMP1b_1</text></g>
<g id="n67"><line class="d" stroke="#000" x1="1040" x2="1400" transform="rotate(224.24)"/><text class="lf" dy="16" transform="rotate(224.24) translate(1415,0) rotate(180)">OsurSNMP1b</text></g>
<g id="n68"><line class="d" stroke="#de1570" x1="1000" x2="1400" transform="rotate(227.63)"/><text class="lf mg" dy="16" transform="rotate(227.63) translate(1415,0) rotate(180)">CsepSNMP1b</text></g>
<g id="n69"><line class="d" stroke="#7a1a8c" x1="1050" x2="1400" transform="rotate(231.02)"/><text class="lf pu" dy="16" transform="rotate(231.02) translate(1415,0) rotate(180)">RferSNMPu1</text></g>
<g id="n70"><line class="d" stroke="#7d0b0b" x1="1100" x2="1400" transform="rotate(234.41)"/><text class="lf dr" dy="16" transform="rotate(234.41) translate(1415,0) rotate(180)">RpalSNMP1</text></g>
<g id="n71"><line class="d" stroke="#5bc4c4" x1="1090" x2="1400" transform="rotate(237.8)"/><text class="lf tq" dy="16" transform="rotate(237.8) translate(1415,0) rotate(180)">SorySNMP1a</text></g>
<g id="n72"><line class="d" stroke="#3f7f14" x1="1140" x2="1400" transform="rotate(241.19)"/><text class="lf gr" dy="16" transform="rotate(241.19) translate(1415,0) rotate(180)">DponSNMP1a</text></g>
<g id="n73"><line class="d" stroke="#1515f0" x1="1120" x2="1400" transform="rotate(244.58)"/><text class="lf bl" dy="16" transform="rotate(244.58) translate(1415,0) rotate(180)">ItypSNMP1a</text></g>
<g id="n74"><line class="d" stroke="#e31515" x1="1100" x2="1400" transform="rotate(247.97)"/><text class="lf rd" dy="16" transform="rotate(247.97) translate(1415,0) rotate(180)">IdupSNMP1a</text></g>
<g id="n75"><line class="d" stroke="#000" x1="1080" x2="1400" transform="rotate(251.36)"/><text class="lf" dy="16" transform="rotate(251.36) translate(1415,0) rotate(180)">DvirSNMP1a</text></g>
<g id="n76"><line class="d" stroke="#8f8a18" x1="1070" x2="1400" transform="rotate(254.75)"/><text class="lf ol" dy="16" transform="rotate(254.75) translate(1415,0) rotate(180)">AglaSNMP1a</text></g>
<g id="n77"><line class="d" stroke="#000" x1="1060" x2="1400" transform="rotate(258.14)"/><text class="lf" dy="16" transform="rotate(258.14) translate(1415,0) rotate(180)">RhorSNMP1a</text></g>
<g id="n78"><line class="d" stroke="#000" x1="1080" x2="1400" transform="rotate(261.53)"/><text class="lf" dy="16" transform="rotate(261.53) translate(1415,0) rotate(180)">OsurSNMP1a</text></g>
<g id="n79"><line class="d" stroke="#000" x1="1030" x2="1400" transform="rotate(264.92)"/><text class="lf" dy="16" transform="rotate(264.92) translate(1415,0) rotate(180)">AtumSNMP1a</text></g>
<g id="n80"><line class="d" stroke="#de1570" x1="1050" x2="1400" transform="rotate(268.31)"/><text class="l mg" dy="16" transform="rotate(268.31) translate(1415,0)">CsepSNMP1a</text></g>
<g id="n81"><line class="d" stroke="#000" x1="1080" x2="1400" transform="rotate(271.7)"/><text class="l" dy="16" transform="rotate(271.7) translate(1415,0)">OborSNMP1</text></g>
<g id="n82"><line class="d" stroke="#000" x1="1070" x2="1400" transform="rotate(275.09)"/><text class="l" dy="16" transform="rotate(275.09) translate(1415,0)">PjapSNMP1</text></g>
<g id="n83"><line class="d" stroke="#000" x1="1060" x2="1400" transform="rotate(278.48)"/><text class="l" dy="16" transform="rotate(278.48) translate(1415,0)">PbreSNMP1</text></g>
<g id="n84"><line class="d" stroke="#000" x1="1040" x2="1400" transform="rotate(281.87)"/><text class="l" dy="16" transform="rotate(281.87) translate(1415,0)">AbilSNMP1</text></g>
<g id="n85"><line class="d" stroke="#000" x1="1040" x2="1400" transform="rotate(285.26)"/><text class="l" dy="16" transform="rotate(285.26) translate(1415,0)">NvesSNMP1</text></g>
<g id="n86"><line class="d" stroke="#000" x1="1070" x2="1400" transform="rotate(288.65)"/><text class="l" dy="16" transform="rotate(288.65) translate(1415,0)">PchaSNMP1a_2</text></g>
<g id="n87"><line class="d" stroke="#000" x1="1030" x2="1400" transform="rotate(292.04)"/><text class="l" dy="16" transform="rotate(292.04) translate(1415,0)">PchaSNMP1a_1</text></g>
<g id="n88"><line class="d" stroke="#d9a325" x1="1000" x2="1400" transform="rotate(295.43)"/><text class="l go" dy="16" transform="rotate(295.43) translate(1415,0)">HsSNMP1c2</text></g>
<g id="n89"><line class="d" stroke="#d9a325" x1="1020" x2="1400" transform="rotate(298.82)"/><text class="l go" dy="16" transform="rotate(298.82) translate(1415,0)">HsSNMP1c1</text></g>
<g id="n90"><line class="d" stroke="#3b8080" x1="1050" x2="1400" transform="rotate(302.21)"/><text class="l tl" dy="16" transform="rotate(302.21) translate(1415,0)">Bmor_SNMP1</text></g>
<g id="n91"><line class="d" stroke="#3f7f14" x1="1040" x2="1400" transform="rotate(305.6)"/><text class="l gr" dy="16" transform="rotate(305.6) translate(1415,0)">MsexSNMP1</text></g>
<g id="n92"><line class="d" stroke="#e8791a" x1="1120" x2="1400" transform="rotate(308.99)"/><text class="l or" dy="16" transform="rotate(308.99) translate(1415,0)">DmelSNMP1</text></g>
<g id="n93"><line class="d" stroke="#000" x1="1080" x2="1400" transform="rotate(312.38)"/><text class="l" dy="16" transform="rotate(312.38) translate(1415,0)">AbilSNMP3</text></g>
<g id="n94"><line class="d" stroke="#000" x1="1060" x2="1400" transform="rotate(315.77)"/><text class="l" dy="16" transform="rotate(315.77) translate(1415,0)">NvesSNMP3</text></g>
<g id="n95"><line class="d" stroke="#000" x1="1080" x2="1400" transform="rotate(319.16)"/><text class="l" dy="16" transform="rotate(319.16) translate(1415,0)">PchaSNMP3</text></g>
<g id="n96"><line class="d" stroke="#000" x1="1070" x2="1400" transform="rotate(322.55)"/><text class="l" dy="16" transform="rotate(322.55) translate(1415,0)">OborSNMP3</text></g>
<g id="n97"><line class="d" stroke="#000" x1="1050" x2="1400" transform="rotate(325.94)"/><text class="l" dy="16" transform="rotate(325.94) translate(1415,0)">PjapSNMP3</text></g>
<g id="n98"><line class="d" stroke="#000" x1="1120" x2="1400" transform="rotate(329.33)"/><text class="l" dy="16" transform="rotate(329.33) translate(1415,0)">PbreSNMP3</text></g>
<g id="n99"><line class="d" stroke="#000" x1="1090" x2="1400" transform="rotate(332.72)"/><text class="l" dy="16" transform="rotate(332.72) translate(1415,0)">OsurSNMP3</text></g>
<g id="n100"><line class="d" stroke="#3b8080" x1="1100" x2="1400" transform="rotate(336.11)"/><text class="l tl" dy="16" transform="rotate(336.11) translate(1415,0)">BmorSNMP3c2</text></g>
<g id="n101"><line class="d" stroke="#3f7f14" x1="1040" x2="1400" transform="rotate(339.5)"/><text class="l gr" dy="16" transform="rotate(339.5) translate(1415,0)">MsexSNMP3c1</text></g>
<g id="n102"><line class="d" stroke="#15157a" x1="1163" x2="1400" transform="rotate(342.89)"/><text class="l nv" dy="16" transform="rotate(342.89) translate(1415,0)">TcasSNMP3a</text></g>
<g id="n103"><line class="d" stroke="#e31515" x1="1076" x2="1400" transform="rotate(346.28)"/><text class="l rd" dy="16" transform="rotate(346.28) translate(1415,0)">IdupSNMP_c6</text></g>
<g id="n104"><line class="d" stroke="#e31515" x1="1094" x2="1400" transform="rotate(349.67)"/><text class="l rd" dy="16" transform="rotate(349.67) translate(1415,0)">IdupSNMP_c10</text></g>
<g id="n105"><line class="d" stroke="#e31515" x1="790" x2="1400" transform="rotate(353.06)"/><text class="l rd" dy="16" transform="rotate(353.06) translate(1415,0)">IdupSNMP_c12</text></g>
<g id="n106"><line class="d" stroke="#e8791a" x1="403" x2="1400" transform="rotate(356.45)"/><text class="l or" dy="16" transform="rotate(356.45) translate(1415,0)">DmelCRQ</text></g>
</g>
</g>
<g id="group-labels">
<text class="g" x="2038" y="112">SNMP1</text><text class="g" x="2038" y="213">Group-1a</text>
<text class="g" x="3577" y="982">SNMP1</text><text class="g" x="3577" y="1083">Group-3</text>
<text class="g" x="27" y="1056">SNMP1</text><text class="g" x="27" y="1157">Group-1b</text>
<text class="g" x="3588" y="3008">SNMP2</text><text class="g" x="3588" y="3109">Group-2a</text>
<text class="g" x="368" y="3220" text-anchor="middle">SNMP2</text><text class="g" x="368" y="3321" text-anchor="middle">Group-4</text>
<text class="g" x="2161" y="3911">SNMP2</text><text class="g" x="2161" y="4012">Group-2b</text>
</g>
<g id="scale-bar">
<line x1="1827" y1="4175" x2="1975" y2="4175" stroke="#000" stroke-width="5"/>
<text x="1901" y="4240" font-size="38" text-anchor="middle" letter-spacing="4">0.4</text>
</g>
</svg>
